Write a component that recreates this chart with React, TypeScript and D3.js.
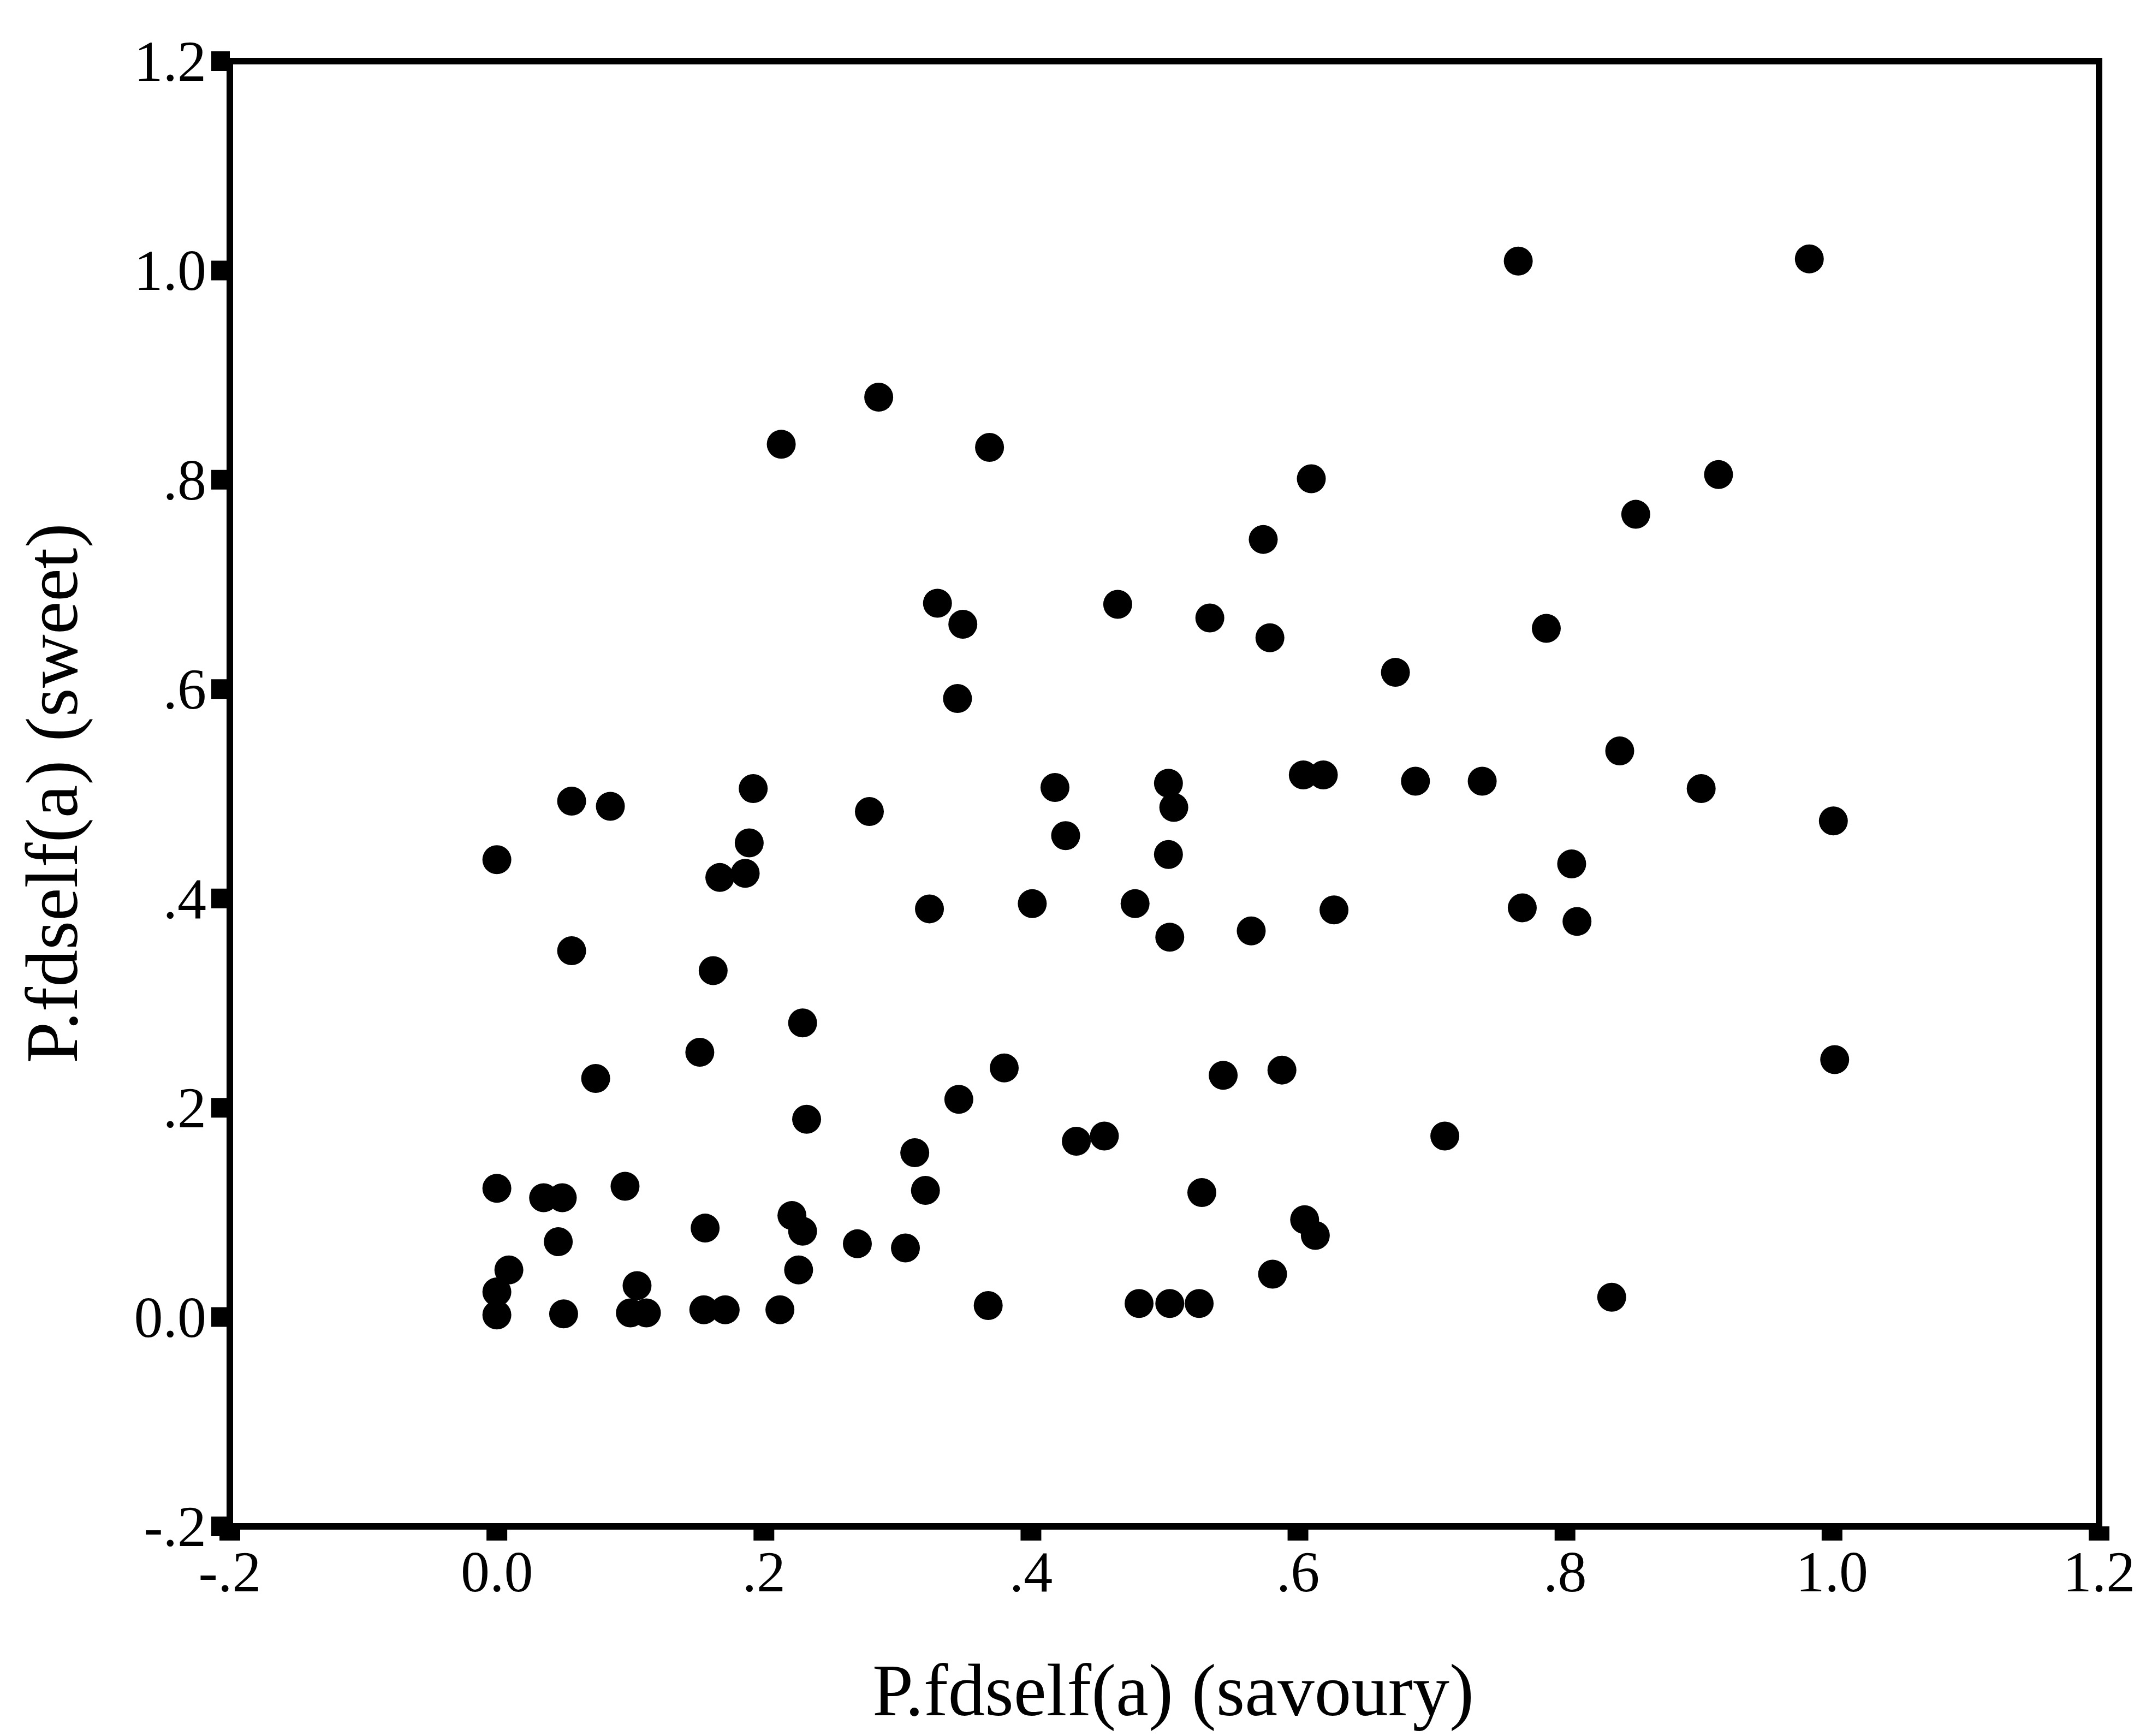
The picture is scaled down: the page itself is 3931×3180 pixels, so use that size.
import React from "react";
import * as d3 from "d3";

const savoury: number[] = [
  0.765, 0.983, 0.286, 0.213, 0.369, 0.61, 0.915, 0.574, 0.853, 0.33,
  0.349, 0.465, 0.534, 0.579, 0.786, 0.345, 0.673, 0.841, 0.604, 0.619,
  0.688, 0.738, 0.902, 1.001, 0.503, 0.507, 0.503, 0.418, 0.426, 0.279,
  0.192, 0.189, 0.186, 0.167, 0.056, 0.085, 0.0, 0.056, 0.162, 0.324,
  0.401, 0.478, 0.504, 0.565, 0.627, 0.768, 0.805, 0.809, 0.229, 0.152,
  0.074, 0.38, 0.346, 0.544, 0.588, 1.002, 0.232, 0.434, 0.455, 0.71,
  0.313, 0.0, 0.096, 0.035, 0.049, 0.321, 0.528, 0.156, 0.221, 0.229,
  0.046, 0.27, 0.306, 0.605, 0.613, 0.009, 0.226, 0.581, 0.0, 0.0,
  0.05, 0.105, 0.1, 0.112, 0.155, 0.171, 0.212, 0.368, 0.481, 0.504,
  0.526, 0.835,
];

const sweet: number[] = [
  1.009, 1.011, 0.879, 0.834, 0.831, 0.801, 0.805, 0.743, 0.767, 0.682,
  0.662, 0.681, 0.668, 0.649, 0.658, 0.591, 0.616, 0.541, 0.518, 0.518,
  0.512, 0.512, 0.505, 0.474, 0.51, 0.487, 0.442, 0.506, 0.46, 0.483,
  0.505, 0.453, 0.424, 0.42, 0.493, 0.488, 0.437, 0.35, 0.331, 0.39,
  0.395, 0.395, 0.363, 0.369, 0.389, 0.391, 0.433, 0.378, 0.281, 0.253,
  0.228, 0.238, 0.208, 0.231, 0.236, 0.246, 0.189, 0.168, 0.173, 0.173,
  0.157, 0.123, 0.125, 0.114, 0.114, 0.121, 0.119, 0.085, 0.097, 0.082,
  0.072, 0.07, 0.066, 0.093, 0.078, 0.045, 0.045, 0.041, 0.024, 0.002,
  0.003, 0.03, 0.004, 0.004, 0.007, 0.007, 0.007, 0.011, 0.013, 0.013,
  0.013, 0.019,
];

const xTicks: number[] = [-0.2, 0, 0.2, 0.4, 0.6, 0.8, 1.0, 1.2];
const xTickLabels: string[] = ["-.2", "0.0", ".2", ".4", ".6", ".8", "1.0", "1.2"];
const yTicks: number[] = [-0.2, 0, 0.2, 0.4, 0.6, 0.8, 1.0, 1.2];
const yTickLabels: string[] = ["-.2", "0.0", ".2", ".4", ".6", ".8", "1.0", "1.2"];

const xTitle = "P.fdself(a) (savoury)";
const yTitle = "P.fdself(a) (sweet)";

const W = 3931;
const H = 3180;
const FONT = "'Liberation Serif', 'Times New Roman', Times, serif";

export default function App() {
  const x = d3.scaleLinear().domain([-0.2, 1.2]).range([421, 3845]);
  const y = d3.scaleLinear().domain([-0.2, 1.2]).range([2796, 112]);

  const [x0, x1] = x.range();
  const [y0, y1] = y.range();

  const points = savoury.map((v, i) => ({ sx: v, sy: sweet[i] }));

  return (
    <svg
      width={W}
      height={H}
      viewBox={`0 0 ${W} ${H}`}
      style={{ position: "absolute", left: 0, top: 0, background: "#fff" }}
    >
      <rect x={0} y={0} width={W} height={H} fill="#fff" />
      {/* frame */}
      <rect
        x={x0}
        y={y1}
        width={x1 - x0}
        height={y0 - y1}
        fill="none"
        stroke="#000"
        strokeWidth={12}
      />
      {/* y ticks */}
      {yTicks.map((t, i) => (
        <g key={"yt" + i}>
          <line x1={x0 - 34} x2={x0} y1={y(t)} y2={y(t)} stroke="#000" strokeWidth={36} />
          <text
            x={378}
            y={y(t) + 36}
            textAnchor="end"
            fontFamily={FONT}
            fontSize={106}
            fill="#000"
          >
            {yTickLabels[i]}
          </text>
        </g>
      ))}
      {/* x ticks */}
      {xTicks.map((t, i) => (
        <g key={"xt" + i}>
          <line x1={x(t)} x2={x(t)} y1={y0} y2={y0 + 26} stroke="#000" strokeWidth={38} />
          <text
            x={x(t)}
            y={2915}
            textAnchor="middle"
            fontFamily={FONT}
            fontSize={106}
            fill="#000"
          >
            {xTickLabels[i]}
          </text>
        </g>
      ))}
      {/* points */}
      {points.map((p, i) => (
        <circle key={"p" + i} cx={x(p.sx)} cy={y(p.sy)} r={26.5} fill="#000" />
      ))}
      {/* titles */}
      <text
        x={2149}
        y={3142}
        textAnchor="middle"
        fontFamily={FONT}
        fontSize={135}
        fill="#000"
      >
        {xTitle}
      </text>
      <text
        transform={`translate(141, 1453) rotate(-90)`}
        textAnchor="middle"
        fontFamily={FONT}
        fontSize={136}
        fill="#000"
      >
        {yTitle}
      </text>
    </svg>
  );
}
